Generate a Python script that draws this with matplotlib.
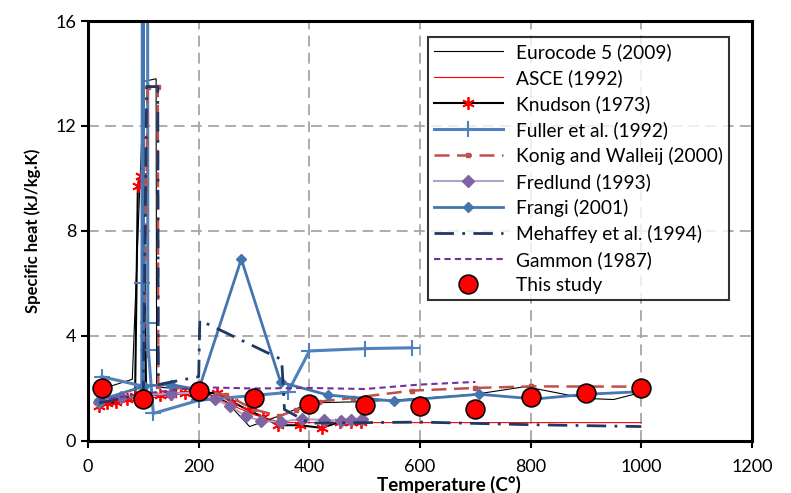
import numpy as np
import matplotlib.pyplot as plt

plt.rcParams['font.family'] = ['Lato', 'DejaVu Sans']

# Eurocode 5 (2009)
ec5_t = [20, 80, 101, 123, 124, 200, 250, 292, 358, 400, 500, 600, 700, 790, 900, 950, 1000]
ec5_c = [1.95, 2.35, 13.7, 13.8, 2.05, 1.95, 1.5, 0.55, 1.05, 1.45, 1.5, 1.62, 1.78, 2.07, 1.62, 1.58, 1.85]

# ASCE (1992)
asce_t = [20, 100, 200, 300, 350, 1000]
asce_c = [1.35, 1.6, 1.9, 1.0, 0.7, 0.7]

# Knudson (1973)
knud_t = [20, 35, 50, 70, 85, 90, 95, 100, 105, 130, 150, 175, 200, 233, 260, 289, 316, 343, 383, 422, 455, 476, 494]
knud_c = [1.35, 1.45, 1.5, 1.6, 1.7, 9.7, 10.1, 9.9, 1.75, 1.75, 1.8, 1.82, 1.85, 1.82, 1.5, 1.18, 0.92, 0.6, 0.6, 0.5, 0.72, 0.72, 0.72]

# Fuller et al. (1992)
full_t = [25, 97, 97.5, 98.5, 107.5, 108, 109, 118, 200, 361, 400, 500, 585]
full_c = [2.45, 2.1, 6.0, 25, 25, 4.5, 3.47, 1.05, 1.55, 1.85, 3.43, 3.52, 3.55]

# Konig and Walleij (2000)
konig_t = [20, 100, 108, 126, 127, 200, 250, 300, 346, 376, 418, 478, 586, 700, 800, 1000]
konig_c = [1.5, 1.7, 13.5, 13.5, 2.1, 1.95, 1.75, 1.2, 0.95, 1.18, 1.5, 1.64, 1.92, 2.02, 2.08, 2.07]

# Fredlund (1993)
fred_t = [20, 60, 100, 150, 200, 229, 256, 286, 313, 349, 386, 427, 457, 476, 496]
fred_c = [1.5, 1.69, 1.75, 1.8, 1.85, 1.6, 1.33, 0.95, 0.76, 0.73, 0.84, 0.8, 0.78, 0.8, 0.84]

# Frangi (2001)
fran_t = [20, 99, 99.5, 100.5, 150, 200, 277, 348, 434, 553, 707, 808, 900, 1000]
fran_c = [1.55, 2.07, 25, 2.1, 2.15, 1.95, 6.93, 2.24, 1.75, 1.52, 1.78, 1.6, 1.78, 1.88]

# Mehaffey et al. (1994)
meh_t = [20, 100, 106, 126, 127, 200, 202, 350, 355, 400, 600, 800, 1000]
meh_c = [1.45, 1.8, 13.5, 13.5, 2.15, 2.45, 4.6, 3.1, 1.2, 0.68, 0.72, 0.62, 0.55]

# Gammon (1987)
gam_t = [20, 100, 200, 300, 400, 500, 600, 700]
gam_c = [1.55, 1.8, 2.05, 2.0, 2.02, 1.98, 2.15, 2.25]

# This study
our_t = [25, 100, 200, 300, 400, 500, 600, 700, 800, 900, 1000]
our_c = [2.0, 1.6, 1.9, 1.65, 1.4, 1.37, 1.33, 1.22, 1.68, 1.83, 2.02]

fig = plt.figure(figsize=(7.91, 4.93), dpi=100)
ax = fig.add_axes([0.1113, 0.1055, 0.8394, 0.8519])

ax.plot(ec5_t, ec5_c, color="black", lw=0.8, label="Eurocode 5 (2009)")
ax.plot(asce_t, asce_c, color="#ff0000", lw=0.8, label="ASCE (1992)")
ax.plot(knud_t, knud_c, color="black", lw=1.5, marker=(6, 2, 0), ms=9,
        mec="#ff0000", mew=1.3, label="Knudson (1973)")
ax.plot(full_t, full_c, color="#4f81bd", lw=2.2, marker="+", ms=12, mew=1.5,
        label="Fuller et al. (1992)")
ax.plot(konig_t, konig_c, color="#c0504d", lw=1.8, ls=(0, (6, 3)), marker="s", ms=2.5,
        label="Konig and Walleij (2000)")
ax.plot(fred_t, fred_c, color="#b3a2c7", lw=1.5, marker="D", ms=6, mfc="#8064a2",
        mec="#8064a2", label="Fredlund (1993)")
ax.plot(fran_t, fran_c, color="#4475ae", lw=2.0, marker="D", ms=5.5,
        label="Frangi (2001)")
ax.plot(meh_t, meh_c, color="#1f3864", lw=2.0, ls=(0, (7, 3, 1, 3)),
        label="Mehaffey et al. (1994)")
ax.plot(gam_t, gam_c, color="#7030a0", lw=1.5, ls=(0, (3, 2)), label="Gammon (1987)")
ax.plot(our_t, our_c, ls="none", marker="o", ms=13.5, mfc="#ff0000", mec="black",
        mew=1.2, label="This study", zorder=5)

ax.set_xlim(0, 1200)
ax.set_ylim(0, 16)
ax.set_xticks(np.arange(0, 1201, 200))
ax.set_yticks(np.arange(0, 17, 4))
ax.grid(True, color="#a6a6a6", ls=(0, (6, 3.5)), lw=1.3)
ax.set_axisbelow(True)
for s in ax.spines.values():
    s.set_linewidth(2.2)
ax.tick_params(direction="out", length=5, width=1.5, labelsize=13)
ax.tick_params(axis="x", pad=8)

ax.set_xlabel("Temperature (C°)", fontsize=13.5, fontweight="bold", labelpad=0)
ax.xaxis.set_label_coords(0.544, -0.082)
ax.set_ylabel("Specific heat (kJ/kg.K)", fontsize=12, fontweight="bold", labelpad=10)

leg = ax.legend(loc="upper right", bbox_to_anchor=(0.98, 0.984), fontsize=13.8,
                frameon=True, fancybox=False, edgecolor="black", handlelength=3.6,
                labelspacing=0.42, borderpad=0.3, handletextpad=0.7)
leg.get_frame().set_linewidth(1.5)

fig.savefig("out.png", dpi=100)
